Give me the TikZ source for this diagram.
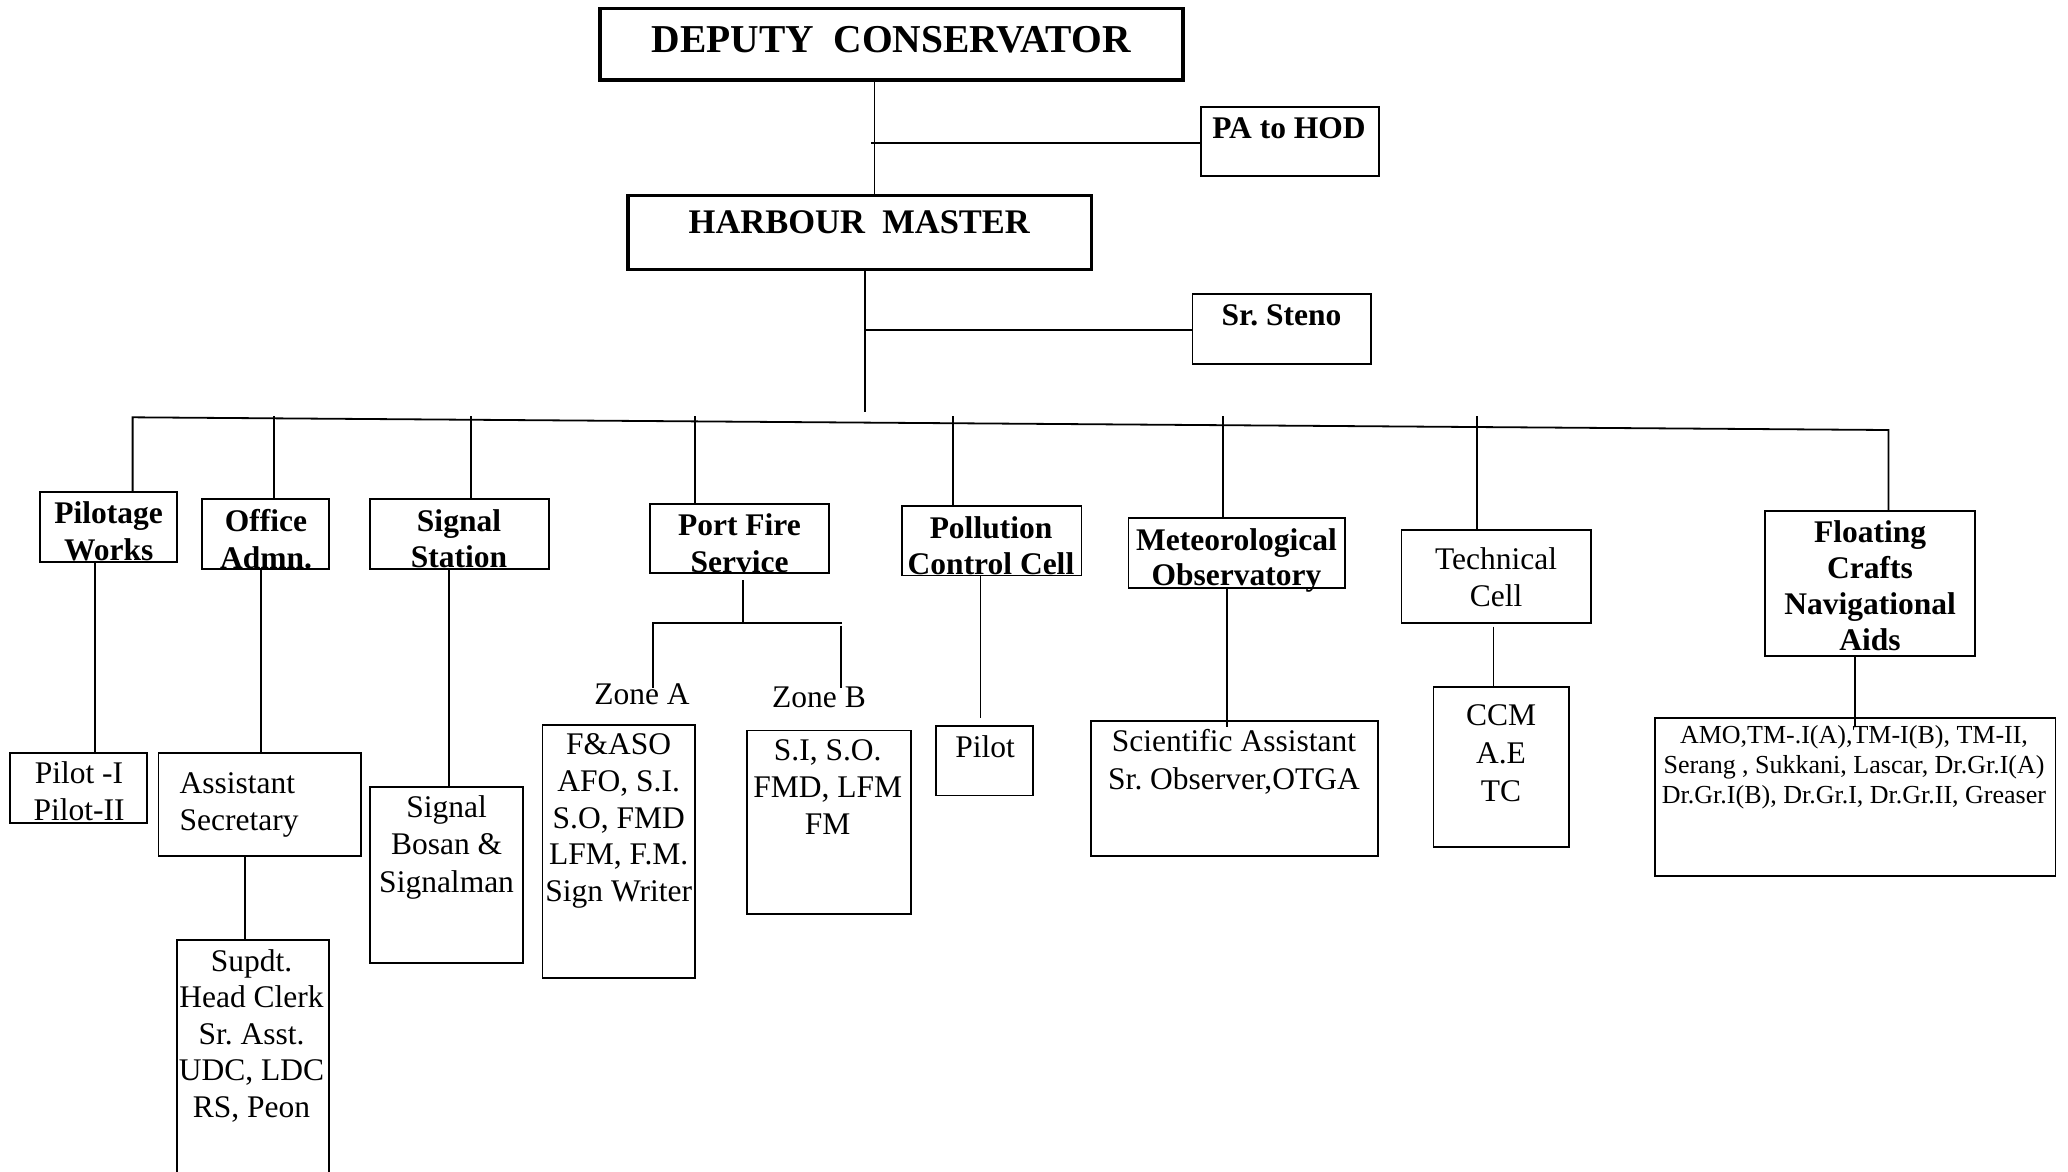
\documentclass[tikz,border=0pt]{standalone}
\usepackage{fontspec}
\setmainfont{Liberation Serif}
\frenchspacing
\begin{document}
\tikzset{
  box/.style={draw, line width=1.8pt, inner sep=0pt, outer sep=0pt},
  tbox/.style={box, line width=3.5pt},
  ln/.style={line width=1.8pt},
  tx/.style={inner sep=0pt, align=center, font=\fontsize{31.5}{36.5}\selectfont},
  btx/.style={inner sep=0pt, align=center, font=\bfseries\fontsize{31.5}{36.5}\selectfont}
}
\begin{tikzpicture}[x=1pt,y=-1pt]
\useasboundingbox (0,0) rectangle (2068,1171);
\clip (0,0) rectangle (2068,1171);
\fill[white] (0,0) rectangle (2068,1171);

% ---------- boxes ----------
\node[tbox, minimum width=583pt, minimum height=71.7pt] (dc) at (891.5,44.15) {};
\node[box, minimum width=178.2pt, minimum height=69pt] (pa) at (1289.9,141.5) {};
\node[tbox, minimum width=463.5pt, minimum height=73.6pt] (hm) at (859.75,232.5) {};
\node[box, minimum width=178.4pt, minimum height=70pt] (st) at (1281.6,329) {};

\node[box, minimum width=137pt, minimum height=70pt] (pw) at (108.7,527.3) {};
\node[box, minimum width=126.8pt, minimum height=70pt] (oa) at (265.6,534.3) {};
\node[box, minimum width=178.7pt, minimum height=70pt] (ss) at (459.35,534.3) {};
\node[box, minimum width=178.8pt, minimum height=69.6pt] (pf) at (739.4,538.4) {};
\node[box, minimum width=179.4pt, minimum height=69.7pt] (pc) at (991.7,540.55) {};
\node[box, minimum width=216.2pt, minimum height=70pt] (mo) at (1236.6,553.3) {};
\node[box, minimum width=189.6pt, minimum height=92.7pt] (tc) at (1496.2,576.35) {};
\node[box, minimum width=209.8pt, minimum height=145.3pt] (fc) at (1869.9,583.35) {};

\node[box, minimum width=137.5pt, minimum height=70pt] (p12) at (78.55,788.3) {};
\node[box, minimum width=202.2pt, minimum height=102.7pt] (as) at (259.6,804.65) {};
\node[box, minimum width=152.2pt, minimum height=250pt] (sup) at (252.9,1065) {};
\node[box, minimum width=153.2pt, minimum height=176pt] (sb) at (446.6,875.3) {};
\node[box, minimum width=152.6pt, minimum height=253.3pt] (fa) at (618.7,851.65) {};
\node[box, minimum width=164.1pt, minimum height=183.9pt] (si) at (828.65,822.35) {};
\node[box, minimum width=97.2pt, minimum height=69.7pt] (pl) at (984.6,760.55) {};
\node[box, minimum width=287.3pt, minimum height=135.3pt] (sa) at (1234.35,788.35) {};
\node[box, minimum width=135.5pt, minimum height=160.6pt] (cc) at (1501.25,767) {};
\node[box, minimum width=400.7pt, minimum height=157.7pt] (amo) at (1855.05,797.15) {};

% ---------- connectors ----------
\coordinate (v1) at (874.5,80);
\draw[ln] (dc.south -| v1) -- (hm.north -| v1);
\coordinate (j1) at (871,142.7);
\draw[ln] (j1) -- (j1 -| pa.west);
\coordinate (hmend) at (865,412);
\draw[ln] (hm.south -| hmend) -- (hmend);
\coordinate (j2) at (865,330);
\draw[ln] (j2) -- (j2 -| st.west);

\coordinate (bl) at (132.6,417.3);
\coordinate (br) at (1888.5,430);
\draw[ln] (pw.north -| bl) -- (bl) -- (br) -- (fc.north -| br);

\coordinate (doa) at (274,416);
\coordinate (dss) at (471,416);
\coordinate (dpf) at (695,416);
\coordinate (dpc) at (952.8,416);
\coordinate (dmo) at (1223,416);
\coordinate (dtc) at (1477,416);
\draw[ln] (doa) -- (doa |- oa.north);
\draw[ln] (dss) -- (dss |- ss.north);
\draw[ln] (dpf) -- (dpf |- pf.north);
\draw[ln] (dpc) -- (dpc |- pc.north);
\draw[ln] (dmo) -- (dmo |- mo.north);
\draw[ln] (dtc) -- (dtc |- tc.north);

\coordinate (c1) at (94.6,0);
\draw[ln] (pw.south -| c1) -- (p12.north -| c1);
\coordinate (c2) at (260.7,0);
\draw[ln] (oa.south -| c2) -- (as.north -| c2);
\coordinate (c3) at (244.6,0);
\draw[ln] (as.south -| c3) -- (sup.north -| c3);
\coordinate (c4) at (448.7,0);
\draw[ln] (ss.south -| c4) -- (sb.north -| c4);

\coordinate (f0) at (742.7,580.4);
\coordinate (f1) at (742.7,623.2);
\draw[ln] (f0) -- (f1);
\coordinate (fa0) at (652.8,623.2);
\coordinate (fa1) at (652.8,687.5);
\coordinate (fb0) at (841.5,623.2);
\draw[ln] (fa1) -- (fa0) -- (fb0);
\coordinate (fb1) at (840.7,625.7);
\coordinate (fb2) at (840.7,687.5);
\draw[ln] (fb1) -- (fb2);

\coordinate (c5) at (980.4,717.9);
\draw[ln] (pc.south -| c5) -- (c5);
\coordinate (c6) at (1226.8,726.7);
\draw[ln] (mo.south -| c6) -- (c6);
\coordinate (c7) at (1493.4,626.7);
\draw[ln] (c7) -- (c7 |- cc.north);
\coordinate (c8) at (1855,726);
\draw[ln] (fc.south -| c8) -- (c8);

% ---------- texts ----------
\node[btx, anchor=base, font=\bfseries\fontsize{39.5}{45}\selectfont] (dct) at (891.2,52) {DEPUTY\ \ CONSERVATOR};
\node[btx, anchor=base] (pat) at (1289,138) {PA to HOD};
\node[btx, anchor=base, font=\bfseries\fontsize{34.5}{40}\selectfont] (hmt) at (859.3,233) {HARBOUR\ \ MASTER};
\node[btx, anchor=base] (stt) at (1281.5,325) {Sr. Steno};

\node[btx, anchor=north] (pwt) at (108.7,501.9) {Pilotage\\Works};
\node[btx, anchor=north] (oat) at (266,509.3) {Office\\Admn.};
\node[btx, anchor=north] (sst) at (459,509.3) {Signal\\Station};
\node[btx, anchor=north, font=\bfseries\fontsize{31.5}{37}\selectfont] (pft) at (739.5,513.6) {Port Fire\\Service};
\node[btx, anchor=north, font=\bfseries\fontsize{31.5}{36.4}\selectfont] (pct) at (991,516.1) {Pollution\\Control Cell};
\node[btx, anchor=north, font=\bfseries\fontsize{31.5}{35}\selectfont] (mot) at (1236.5,528.6) {Meteorological\\Observatory};
\node[tx, anchor=north, font=\fontsize{31.5}{36.7}\selectfont] (tct) at (1496,547.9) {Technical\\Cell};
\node[btx, anchor=north, font=\bfseries\fontsize{31.5}{36.1}\selectfont] (fct) at (1870,520.3) {Floating\\Crafts\\Navigational\\Aids};

\node[tx, anchor=north] (p12t) at (79,761.9) {Pilot -I\\Pilot-II};
\node[tx, anchor=north west, align=left] (ast) at (179.5,772.6) {Assistant\\Secretary};
\node[tx, anchor=north] (supt) at (251.5,949.3) {Supdt.\\Head Clerk\\Sr. Asst.\\UDC, LDC\\RS, Peon};
\node[tx, anchor=north, font=\fontsize{31.5}{37.5}\selectfont] (sbt) at (446.6,795.3) {Signal\\Bosan \&\\Signalman};
\node[tx, anchor=north, font=\fontsize{31.5}{36.7}\selectfont] (fat) at (618.7,733.6) {F\&ASO\\AFO, S.I.\\S.O, FMD\\LFM, F.M.\\Sign Writer};
\node[tx, anchor=base] (zat) at (642,704.3) {Zone A};
\node[tx, anchor=base] (zbt) at (819,707.9) {Zone B};
\node[tx, anchor=north, font=\fontsize{31.5}{37.1}\selectfont] (sit) at (827.7,739.3) {S.I, S.O.\\FMD, LFM\\FM};
\node[tx, anchor=base] (plt) at (985,757.1) {Pilot};
\node[tx, anchor=north, font=\fontsize{31.5}{37.6}\selectfont] (sat) at (1234,729.3) {Scientific Assistant\\Sr. Observer,OTGA};
\node[tx, anchor=north, font=\fontsize{31.5}{37.8}\selectfont] (cct) at (1501,704.6) {CCM\\A.E\\TC};
\node[tx, anchor=north, font=\fontsize{26}{30.3}\selectfont] (amot) at (1854,724.8) {AMO,TM-.I(A),TM-I(B), TM-II,\\Serang , Sukkani, Lascar, Dr.Gr.I(A)\\Dr.Gr.I(B), Dr.Gr.I, Dr.Gr.II, Greaser};
\end{tikzpicture}
\end{document}
